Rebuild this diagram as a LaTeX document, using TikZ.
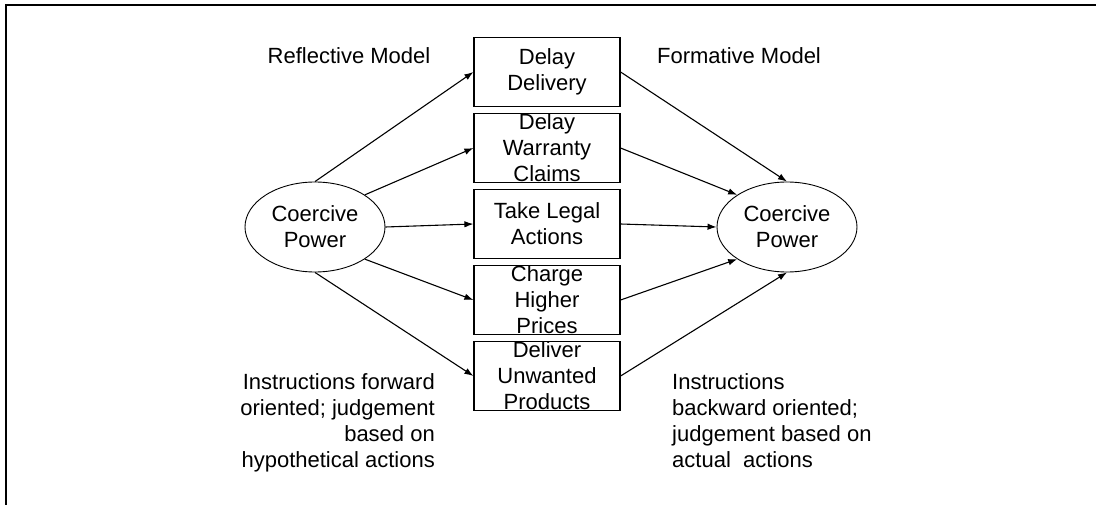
\documentclass[tikz,border=0pt]{standalone}
\usepackage{fontspec}
\setmainfont{Liberation Sans}
\usetikzlibrary{arrows.meta,positioning,shapes.geometric}

\begin{document}
\begin{tikzpicture}[x=1pt,y=-1pt,node distance=76pt,>={Latex[length=9pt,width=6.5pt]},
  every node/.style={font=\fontsize{22}{26}\selectfont},
  act/.style={draw,line width=1.2pt,minimum width=146pt,minimum height=69pt,inner sep=0pt},
  acttxt/.style={align=center,inner sep=0pt},
  construct/.style={ellipse,draw,line width=0.9pt,minimum width=140pt,minimum height=90pt,inner sep=0pt,align=center},
  link/.style={->,line width=1.1pt}]
\useasboundingbox (0,0) rectangle (1096,505);
\draw[line width=2.5pt] (1096,5) -- (6,5) -- (6,505);

\node[act] (b1) at (547,72) {};
\node[act,below of = b1] (b2) {};
\node[act,below of = b2] (b3) {};
\node[act,below of = b3] (b4) {};
\node[act,below of = b4] (b5) {};
\node[acttxt] (b1t) at (b1) {Delay\\Delivery};
\node[acttxt] (b2t) at (b2) {Delay\\Warranty\\Claims};
\node[acttxt] (b3t) at (b3) {Take Legal\\Actions};
\node[acttxt] (b4t) at (b4) {Charge\\Higher\\Prices};
\node[acttxt] (b5t) at (b5) {Deliver\\Unwanted\\Products};

\node[construct] (refl) at (315,227) {Coercive\\Power};
\node[construct] (form) at (787,227) {Coercive\\Power};

\node (reflhd) at (349,56) {Reflective Model};
\node (formhd) at (739,56) {Formative Model};
\node[align=right,anchor=north east,inner sep=0pt] (reflnote) at (435,373)
  {Instructions forward\\oriented; judgement\\based on\\hypothetical actions};
\node[align=left,anchor=north west,inner sep=0pt] (formnote) at (672,373)
  {Instructions\\backward oriented;\\judgement based on\\actual\ \ actions};

\draw [link] (refl.north) -- (b1.west);
\draw [link] (refl.north east) -- (b2.west);
\draw [link] (refl.east) -- (b3.west);
\draw [link] (refl.south east) -- (b4.west);
\draw [link] (refl.south) -- (b5.west);
\draw [link] (b1.east) -- (form.north);
\draw [link] (b2.east) -- (form.north west);
\draw [link] (b3.east) -- (form.west);
\draw [link] (b4.east) -- (form.south west);
\draw [link] (b5.east) -- (form.south);
    %
\end{tikzpicture}
\end{document}
